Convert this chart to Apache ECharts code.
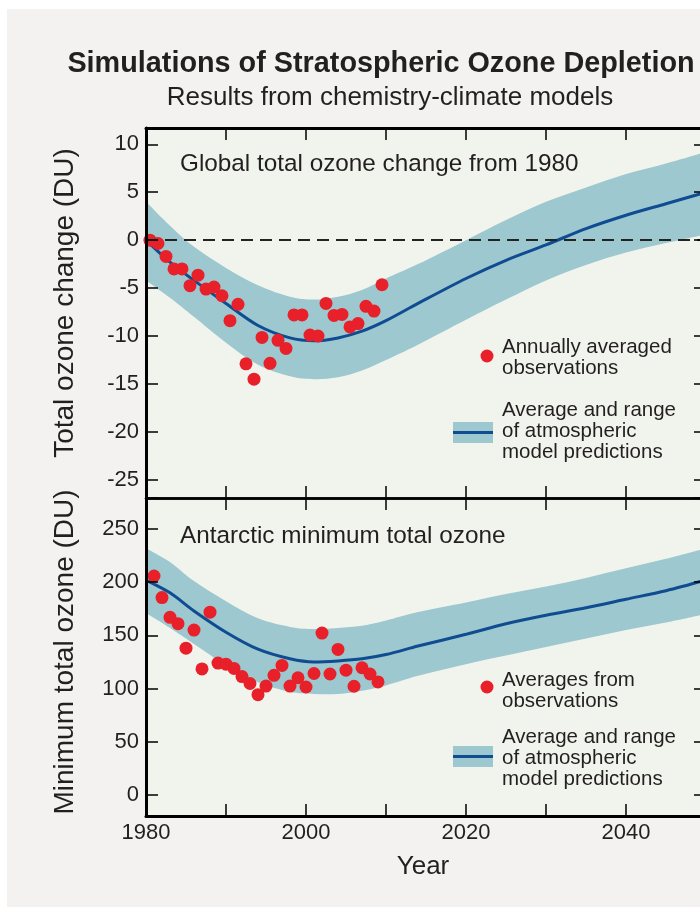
<!DOCTYPE html>
<html><head><meta charset="utf-8">
<script src="https://cdn.jsdelivr.net/npm/echarts@6/dist/echarts.min.js"></script>
<style>
html,body{margin:0;padding:0;background:#ffffff;overflow:hidden;width:700px;height:907px;}
#bg{position:absolute;left:7px;top:9px;width:693px;height:898px;background:#f3f2f0;}
#chart{position:absolute;left:0;top:0;width:730px;height:907px;}
</style></head><body>
<div id="bg"></div><div id="chart"></div>
<script>
// ---------- data ----------
const xTickLabels = [1980, 2000, 2020, 2040];
const globalTickLabels = [10, 5, 0, -5, -10, -15, -20, -25];
const antarcticTickLabels = [250, 200, 150, 100, 50, 0];

// Global total ozone change from 1980 (annual averages, plotted mid-year)
const globalObsYears = [1980.5,1981.5,1982.5,1983.5,1984.5,1985.5,1986.5,1987.5,1988.5,1989.5,
  1990.5,1991.5,1992.5,1993.5,1994.5,1995.5,1996.5,1997.5,1998.5,1999.5,
  2000.5,2001.5,2002.5,2003.5,2004.5,2005.5,2006.5,2007.5,2008.5,2009.5];
const globalObs = [0.0,-0.35,-1.7,-3.0,-3.0,-4.75,-3.65,-5.1,-4.9,-5.8,
  -8.4,-6.7,-12.9,-14.5,-10.15,-12.85,-10.45,-11.3,-7.8,-7.8,
  -9.9,-10.0,-6.6,-7.85,-7.75,-9.05,-8.7,-6.9,-7.4,-4.65];

// Antarctic minimum total ozone (observations)
const antarcticObsYears = [1981,1982,1983,1984,1985,1986,1987,1988,1989,1990,
  1991,1992,1993,1994,1995,1996,1997,1998,1999,2000,
  2001,2002,2003,2004,2005,2006,2007,2008,2009];
const antarcticObs = [205.8,185.5,167,161,138,155,118.5,171.8,124,123,
  119,111.3,104.8,94.3,102.4,112.5,121.8,102.4,110.2,101.5,
  114.2,152.2,113.7,136.8,117.3,102.2,119.6,113.7,106.3];

// Model predictions (average and range)
const modelYears = [1980,1983,1986,1990,1994,1998,2001,2004,2007,2010,2014,2020,2025,2030,2035,2040,2045,2050];
const globalMean = [0,-2.3,-4.2,-6.6,-8.9,-10.2,-10.5,-10.2,-9.5,-8.4,-6.6,-4.0,-2.1,-0.5,1.2,2.6,3.8,5.0];
const globalHigh = [4.0,1.5,-0.7,-2.9,-4.7,-5.9,-6.2,-5.9,-5.2,-4.0,-2.5,0,2.1,4.0,5.5,6.9,8.0,9.2];
const globalLow  = [-4.2,-6.0,-8.0,-10.7,-13.0,-14.2,-14.5,-14.3,-13.6,-12.5,-10.9,-8.3,-6.2,-4.2,-2.6,-1.3,-0.3,0.6];
const antMean = [202,190,173,153,137,128,125,126,128,132,140,151,161,169,176,184,192,202];
const antHigh = [232,219,201,182,166,158,156,157,159,164,172,181,189,196,204,213,222,232];
const antLow  = [171,157,142,122,106,97,95,95,98,103,112,123,131,139,147,155,162,170];

// ---------- styling ----------
const FONT = '"Liberation Sans", Arial, Helvetica, sans-serif';
const TXT = '#231f20';
const BAND = '#9dc8cf';
const LINE = '#0f4c91';
const DOT = '#e8202a';
const PLOTBG = '#f1f4ec';

const pairs = (xs, ys) => xs.map((x, i) => [x, ys[i]]);

// Smooth (Catmull-Rom) path through screen points
function smoothSegs(pts, start) {
  let d = start ? 'M' + pts[0][0] + ',' + pts[0][1] : 'L' + pts[0][0] + ',' + pts[0][1];
  for (let i = 0; i < pts.length - 1; i++) {
    const p0 = pts[Math.max(i - 1, 0)], p1 = pts[i], p2 = pts[i + 1], p3 = pts[Math.min(i + 2, pts.length - 1)];
    const c1 = [p1[0] + (p2[0] - p0[0]) / 6, p1[1] + (p2[1] - p0[1]) / 6];
    const c2 = [p2[0] - (p3[0] - p1[0]) / 6, p2[1] - (p3[1] - p1[1]) / 6];
    d += 'C' + c1[0] + ',' + c1[1] + ',' + c2[0] + ',' + c2[1] + ',' + p2[0] + ',' + p2[1];
  }
  return d;
}
function bandSeries(name, xAxisIndex, yAxisIndex, years, lo, hi) {
  return {
    name, type: 'custom', xAxisIndex, yAxisIndex, silent: true, z: 1,
    data: years.map((y, i) => [y, lo[i], hi[i]]),
    encode: { x: 0, y: [1, 2] },
    renderItem: function (params, api) {
      if (params.dataIndex !== 0) return null;
      const up = years.map((y, i) => api.coord([y, hi[i]]));
      const dn = years.map((y, i) => api.coord([y, lo[i]])).reverse();
      const d = smoothSegs(up, true) + smoothSegs(dn, false) + 'Z';
      const cs = params.coordSys;
      return {
        type: 'group',
        clipPath: { type: 'rect', shape: { x: cs.x, y: cs.y, width: cs.width, height: cs.height } },
        children: [{ type: 'path', shape: { pathData: d }, style: { fill: BAND, stroke: null } }]
      };
    }
  };
}

function xAxis(gridIndex, position, lineWidth, showLabels) {
  return {
    type: 'value', gridIndex, position, min: 1980, max: 2050, interval: 10, z: 10,
    axisLine: { show: true, onZero: false, lineStyle: { color: '#000', width: lineWidth } },
    axisTick: { show: true, inside: true, length: 12, lineStyle: { color: '#000', width: 1.5 } },
    splitLine: { show: false },
    axisLabel: {
      show: showLabels, margin: 6, fontSize: 22, fontFamily: FONT, color: TXT,
      formatter: v => xTickLabels.includes(v) ? String(v) : ''
    }
  };
}
function yAxis(gridIndex, position, min, max, step, labels, showLabels, lineWidth) {
  return {
    type: 'value', gridIndex, position, min, max, minInterval: step, maxInterval: step, z: 10,
    axisLine: { show: true, onZero: false, lineStyle: { color: '#000', width: lineWidth } },
    axisTick: { show: true, inside: true, length: 12, lineStyle: { color: '#000', width: 1.5 } },
    splitLine: { show: false },
    axisLabel: {
      show: showLabels, margin: 7, fontSize: 22, fontFamily: FONT, color: TXT,
      formatter: v => { const r = Math.round(v); return (Math.abs(v - r) < 1e-6 && labels.includes(r)) ? String(r) : ''; }
    }
  };
}

function text(t, x, y, size, extra) {
  return {
    type: 'text', x, y, silent: true, z: 20,
    style: Object.assign({ text: t, fontSize: size, fontFamily: FONT, fill: TXT, align: 'left', verticalAlign: 'middle' }, extra || {})
  };
}
function legendBlock(dotY, obsLines, obsY, bandY, modelY) {
  const g = [];
  g.push({ type: 'circle', silent: true, z: 20, shape: { cx: 487, cy: dotY, r: 6.5 }, style: { fill: DOT } });
  obsLines.forEach((l, i) => g.push(text(l, 502, obsY + i * 21, 20.5)));
  g.push({ type: 'rect', silent: true, z: 20, shape: { x: 453, y: bandY, width: 40, height: 21 }, style: { fill: BAND } });
  g.push({ type: 'line', silent: true, z: 21, shape: { x1: 453, y1: bandY + 10.5, x2: 493, y2: bandY + 10.5 }, style: { stroke: LINE, lineWidth: 3 } });
  ['Average and range', 'of atmospheric', 'model predictions'].forEach((l, i) => g.push(text(l, 502, modelY + i * 21, 20.5)));
  return g;
}

const chart = echarts.init(document.getElementById('chart'), null, { renderer: 'canvas' });
const option = {
  animation: false,
  backgroundColor: 'transparent',
  grid: [
    { left: 146, top: 128, width: 560, height: 370, show: true, backgroundColor: PLOTBG, borderWidth: 0 },
    { left: 146, top: 498, width: 560, height: 318, show: true, backgroundColor: PLOTBG, borderWidth: 0 }
  ],
  xAxis: [
    xAxis(0, 'bottom', 2.5, false),
    xAxis(0, 'top', 3, false),
    xAxis(1, 'bottom', 3, true),
    xAxis(1, 'top', 2.5, false)
  ],
  yAxis: [
    yAxis(0, 'left', -26.9, 11.7, 5, globalTickLabels, true, 3),
    yAxis(0, 'right', -26.9, 11.7, 5, globalTickLabels, false, 3),
    yAxis(1, 'left', -19.7, 279.1, 50, antarcticTickLabels, true, 3),
    yAxis(1, 'right', -19.7, 279.1, 50, antarcticTickLabels, false, 3)
  ],
  series: [
    bandSeries('Global model range', 0, 0, modelYears, globalLow, globalHigh),
    { name: 'Global model average', type: 'line', xAxisIndex: 0, yAxisIndex: 0, smooth: 0.3, symbol: 'none', z: 3,
      lineStyle: { color: LINE, width: 3 }, data: pairs(modelYears, globalMean), silent: true,
      markLine: { silent: true, symbol: ['none', 'none'], label: { show: false },
        lineStyle: { color: '#222', width: 2, type: [12, 7] }, data: [{ yAxis: 0 }] } },
    { name: 'Annually averaged observations', type: 'scatter', xAxisIndex: 0, yAxisIndex: 0, z: 4,
      symbolSize: 13, itemStyle: { color: DOT, opacity: 1 }, data: pairs(globalObsYears, globalObs), silent: true },
    bandSeries('Antarctic model range', 2, 2, modelYears, antLow, antHigh),
    { name: 'Antarctic model average', type: 'line', xAxisIndex: 2, yAxisIndex: 2, smooth: 0.3, symbol: 'none', z: 3,
      lineStyle: { color: LINE, width: 3 }, data: pairs(modelYears, antMean), silent: true },
    { name: 'Averages from observations', type: 'scatter', xAxisIndex: 2, yAxisIndex: 2, z: 4,
      symbolSize: 13, itemStyle: { color: DOT, opacity: 1 }, data: pairs(antarcticObsYears, antarcticObs), silent: true }
  ],
  graphic: [
    text('Simulations of Stratospheric Ozone Depletion', 381, 64, 28.8, { fontWeight: 'bold', align: 'center' }),
    text('Results from chemistry-climate models', 390, 98, 26, { align: 'center' }),
    text('Global total ozone change from 1980', 180, 164.5, 24.3),
    text('Antarctic minimum total ozone', 180, 536, 24.3),
    { type: 'text', x: 65, y: 303, rotation: Math.PI / 2, silent: true, z: 20,
      style: { text: 'Total ozone change (DU)', fontSize: 28, fontFamily: FONT, fill: TXT, align: 'center', verticalAlign: 'middle' } },
    { type: 'text', x: 65, y: 652, rotation: Math.PI / 2, silent: true, z: 20,
      style: { text: 'Minimum total ozone (DU)', fontSize: 28, fontFamily: FONT, fill: TXT, align: 'center', verticalAlign: 'middle' } },
    text('Year', 423, 867, 26, { align: 'center' }),
    ...legendBlock(356, ['Annually averaged', 'observations'], 347.5, 422, 410.5),
    ...legendBlock(687, ['Averages from', 'observations'], 680, 746, 737.5)
  ]
};
chart.setOption(option);
</script>
</body></html>
